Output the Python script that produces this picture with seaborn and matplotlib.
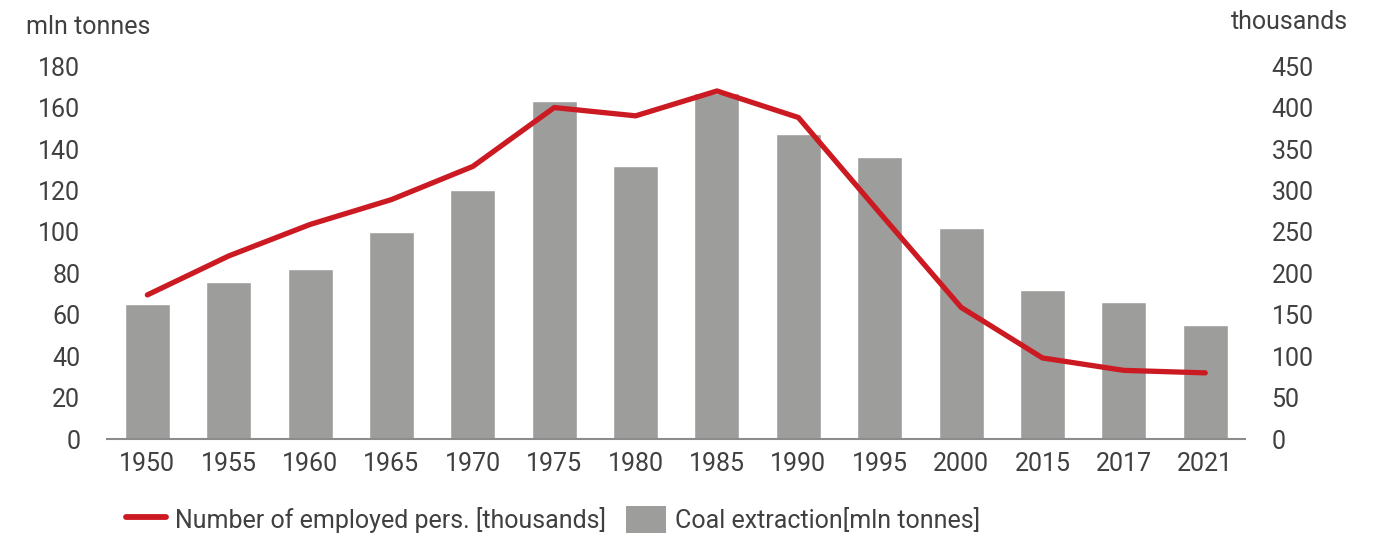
import pandas as pd
import numpy as np
import matplotlib.pyplot as plt
import seaborn as sns
from matplotlib.lines import Line2D
from matplotlib.patches import Patch

years = ["1950", "1955", "1960", "1965", "1970", "1975", "1980",
         "1985", "1990", "1995", "2000", "2015", "2017", "2021"]
coal = [65, 76, 82, 100, 120, 163, 132, 167, 147, 136, 102, 72, 66, 55]
employed = [174, 221, 259, 289, 329, 400, 390, 420, 388, 273, 159, 98, 83, 80]

df = pd.DataFrame({"year": years, "coal": coal, "employed": employed})

sns.set_style("white")
plt.rcParams["font.family"] = ["Roboto", "DejaVu Sans"]
txt = "#404040"
bar_c = "#9d9d9c"
red = "#cc1a22"
fs = 18

fig = plt.figure(figsize=(13.85, 5.33), dpi=100)
ax = fig.add_axes([0.077, 0.176, 0.822, 0.7])
sns.barplot(data=df, x="year", y="coal", color=bar_c, width=0.553,
            saturation=1, ax=ax)
ax.set_ylim(0, 180)
ax.set_yticks(np.arange(0, 181, 20))
ax.set_xlim(-0.5, 13.49)

ax2 = ax.twinx()
sns.lineplot(data=df, x="year", y="employed", color=red, linewidth=3.8,
             sort=False, ax=ax2)
ax2.set_ylim(0, 450)
ax2.set_yticks(np.arange(0, 451, 50))
for spine in ax2.spines.values():
    spine.set_visible(False)

for a in (ax, ax2):
    a.set_xlabel("")
    a.set_ylabel("")
    for s in ["top", "left", "right"]:
        a.spines[s].set_visible(False)
ax.spines["bottom"].set_color("#8c8c8c")
ax.spines["bottom"].set_linewidth(1.5)
ax.tick_params(axis="y", length=0, pad=19, labelsize=fs, labelcolor=txt)
ax.tick_params(axis="x", length=0, pad=9, labelsize=fs, labelcolor=txt)
ax2.tick_params(axis="y", length=0, pad=19, labelsize=fs, labelcolor=txt)

fig.text(0.019, 0.95, "mln tonnes", fontsize=fs, color=txt, va="center")
fig.text(0.973, 0.958, "thousands", fontsize=fs, color=txt, va="center", ha="right")

handles = [Line2D([0], [0], color=red, linewidth=4.2, solid_capstyle="round"),
           Patch(facecolor=bar_c, edgecolor="none")]
labels = ["Number of employed pers. [thousands]", "Coal extraction[mln tonnes]"]
fig.legend(handles, labels, loc="center left", bbox_to_anchor=(0.091, 0.025),
           ncol=2, frameon=False, fontsize=fs, labelcolor=txt,
           handlelength=1.6, handleheight=1.25, columnspacing=0.8,
           handletextpad=0.35, borderpad=0, borderaxespad=0)

fig.savefig("out.png", dpi=100)
